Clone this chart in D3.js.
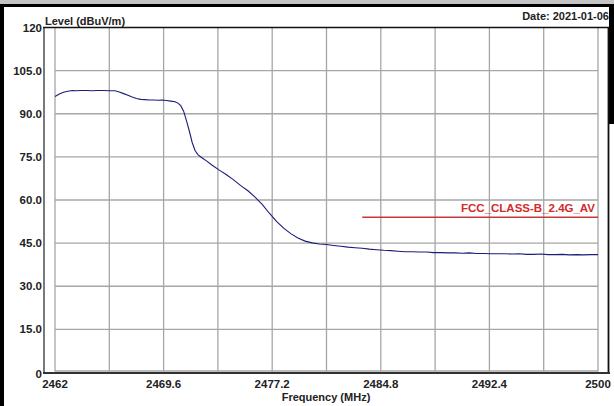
<!DOCTYPE html>
<html><head><meta charset="utf-8">
<script src="https://cdn.jsdelivr.net/npm/d3@7"></script>
<style>body{margin:0;background:#fff}svg{display:block}text{font-family:"Liberation Sans",Arial,sans-serif;font-weight:bold}</style>
</head><body>
<svg id="c" width="614" height="406"></svg>
<script>
const freq = [2462.0,2462.3,2462.6,2462.9,2463.2,2463.5,2463.8,2464.2,2464.6,2465.0,2465.4,2465.8,2466.2,2466.5,2466.8,2467.1,2467.4,2467.7,2468.0,2468.3,2468.6,2468.9,2469.2,2469.5,2469.8,2470.1,2470.4,2470.6,2470.8,2471.0,2471.2,2471.4,2471.6,2471.8,2472.0,2472.3,2472.6,2473.0,2473.5,2474.0,2474.5,2475.0,2475.5,2476.0,2476.5,2477.0,2477.5,2478.0,2478.5,2479.0,2479.5,2480.0,2480.5,2481.0,2481.5,2482.0,2482.5,2483.0,2483.5,2484.0,2484.5,2485.0,2485.5,2486.0,2486.5,2487.0,2487.5,2488.0,2488.5,2489.0,2489.5,2490.0,2490.5,2491.0,2491.5,2492.0,2492.5,2493.0,2493.5,2494.0,2494.5,2495.0,2495.5,2496.0,2496.5,2497.0,2497.5,2498.0,2498.5,2499.0,2499.5,2500.0];
const level = [96.0,96.9,97.5,97.8,98.1,98.0,98.1,98.1,98.0,98.1,98.1,98.0,98.0,97.6,97.0,96.4,95.8,95.3,95.0,94.9,94.8,94.8,94.7,94.8,94.6,94.4,94.2,93.7,92.8,90.9,87.6,84.0,80.0,77.2,75.8,74.6,73.6,72.1,70.4,68.8,67.0,65.0,63.2,61.0,58.5,55.4,52.6,50.2,48.3,46.8,45.7,45.1,44.7,44.5,44.2,43.9,43.6,43.4,43.2,42.9,42.7,42.5,42.4,42.2,42.0,42.0,41.9,41.9,41.7,41.7,41.6,41.6,41.5,41.6,41.4,41.4,41.3,41.3,41.3,41.2,41.3,41.1,41.1,41.2,41.0,41.0,41.1,40.9,41.0,40.9,41.0,41.0];
const limitFreq = [2483.5, 2500];
const limitLevel = [54, 54];
const limitName = "FCC_CLASS-B_2.4G_AV";
const xTicks = [2462,2465.8,2469.6,2473.4,2477.2,2481,2484.8,2488.6,2492.4,2496.2,2500];
const xTickLabels = ["2462","","2469.6","","2477.2","","2484.8","","2492.4","","2500"];
const yTicks = [0,15,30,45,60,75,90,105,120];
const yTickLabels = ["0","15.0","30.0","45.0","60.0","75.0","90.0","105.0","120"];

const svg = d3.select("#c");
const x = d3.scaleLinear().domain([2462,2500]).range([55,598]);
const y = d3.scaleLinear().domain([0,120]).range([372.5,27.5]);

// outer frame
svg.append("rect").attr("x",0).attr("y",0).attr("width",614).attr("height",4).attr("fill","#c4c4c4");
svg.append("rect").attr("x",0).attr("y",4).attr("width",614).attr("height",3).attr("fill","#000");
svg.append("rect").attr("x",0).attr("y",4).attr("width",4).attr("height",402).attr("fill","#000");
svg.append("rect").attr("x",609).attr("y",4).attr("width",5).attr("height",120).attr("fill","#000");

// grid
const g = svg.append("g");
g.selectAll(".vg").data(xTicks).join("line")
  .attr("x1",d=>x(d)).attr("x2",d=>x(d)).attr("y1",y(120)).attr("y2",y(0)-1)
  .attr("stroke","#a6a6a6").attr("stroke-width",1.3);
g.selectAll(".hg").data(yTicks.filter(d=>d>0&&d<120)).join("line")
  .attr("x1",x(2462)).attr("x2",x(2500)).attr("y1",d=>y(d)).attr("y2",d=>y(d))
  .attr("stroke","#a6a6a6").attr("stroke-width",1.3);
g.append("line").attr("x1",x(2462)).attr("x2",x(2500)).attr("y1",y(0)-1.5).attr("y2",y(0)-1.5).attr("stroke","#a6a6a6").attr("stroke-width",1.3);

// frame
svg.append("line").attr("x1",44).attr("x2",44).attr("y1",27).attr("y2",373).attr("stroke","#7a7a7a").attr("stroke-width",2);
svg.append("line").attr("x1",43).attr("x2",610).attr("y1",27.5).attr("y2",27.5).attr("stroke","#111").attr("stroke-width",1.5);
svg.append("line").attr("x1",608.5).attr("x2",608.5).attr("y1",27).attr("y2",374).attr("stroke","#111").attr("stroke-width",1.8);
svg.append("line").attr("x1",43).attr("x2",610).attr("y1",373).attr("y2",373).attr("stroke","#333").attr("stroke-width",1.8);

// y labels
svg.selectAll(".yl").data(yTicks).join("text")
  .attr("x",42).attr("y",(d,i)=> d===0 ? y(d)+5 : y(d)+4)
  .attr("text-anchor","end").attr("font-size",11.5).attr("fill","#222")
  .text((d,i)=>yTickLabels[i]);

// x labels
svg.selectAll(".xl").data(xTicks).join("text")
  .attr("x",d=>x(d)).attr("y",388)
  .attr("text-anchor","middle").attr("font-size",11.5).attr("fill","#222")
  .text((d,i)=>xTickLabels[i]);

svg.append("text").attr("x",45).attr("y",25).attr("font-size",11).attr("fill","#222").text("Level (dBuV/m)");
svg.append("text").attr("x",609).attr("y",20).attr("text-anchor","end").attr("font-size",11).attr("fill","#222").text("Date: 2021-01-06");
svg.append("text").attr("x",326).attr("y",401).attr("text-anchor","middle").attr("font-size",11).attr("fill","#222").text("Frequency (MHz)");

// limit
const lim = limitFreq.map((f,i)=>[f,limitLevel[i]]);
svg.append("path").datum(lim).attr("d",d3.line().x(d=>x(d[0])).y(d=>y(d[1])))
  .attr("stroke","#c83a3a").attr("stroke-width",1.3).attr("fill","none");
svg.append("text").attr("x",x(2500)-3).attr("y",y(54)-5).attr("text-anchor","end")
  .attr("font-size",11.5).attr("fill","#d42a2a").text(limitName);

// trace
const pts = freq.map((f,i)=>[f,level[i]]);
svg.append("path").datum(pts).attr("d",d3.line().x(d=>x(d[0])).y(d=>y(d[1])))
  .attr("stroke","#1c1c78").attr("stroke-width",1.1).attr("fill","none");
</script>
</body></html>
